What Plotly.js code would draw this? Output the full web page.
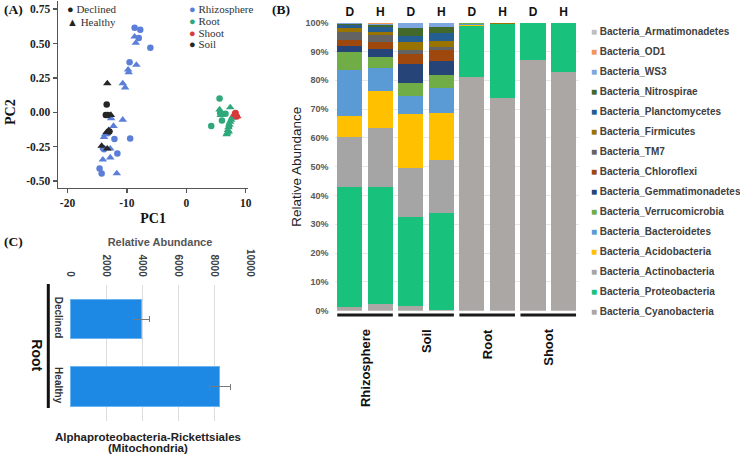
<!DOCTYPE html>
<html>
<head>
<meta charset="utf-8">
<script src="https://cdn.plot.ly/plotly-3.0.1.min.js"></script>
<style>
html, body { margin: 0; padding: 0; background: #fff; }
#chart { width: 740px; height: 456px; }
</style>
</head>
<body>
<div id="chart"></div>
<script>
// ---------- (A) PCA scores ----------
const rhizoDeclinedX = [-8.7, -7.75, -8.0, -6.05, -9.55, -9.45, -12.1, -11.6, -13.85, -14.05, -14.6, -14.25, -13.2];
const rhizoDeclinedY = [0.615, 0.60, 0.54, 0.47, 0.365, -0.19, -0.195, -0.30, -0.27, -0.26, -0.41, -0.445, -0.15];
const rhizoHealthyX = [-8.7, -8.5, -8.4, -9.8, -9.7, -10.7, -10.3, -12.65, -10.7, -12.25, -13.65, -13.85, -12.8, -14.05, -12.8, -11.7];
const rhizoHealthyY = [0.55, 0.505, 0.345, 0.31, 0.29, 0.21, 0.18, -0.045, -0.055, -0.10, -0.16, -0.18, -0.265, -0.345, -0.33, -0.445];
const soilDeclinedX = [-13.4, -13.55, -13.2, -12.95];
const soilDeclinedY = [0.057, -0.02, -0.02, -0.14];
const soilHealthyX = [-13.3, -12.7, -13.4, -13.05, -14.25, -13.3];
const soilHealthyY = [0.21, -0.02, -0.145, -0.13, -0.245, -0.265];
const rootDeclinedX = [5.6, 4.2, 6.0, 6.6, 5.7, 7.2];
const rootDeclinedY = [0.10, -0.10, -0.06, -0.01, -0.005, -0.10];
const rootHealthyX = [5.6, 5.8, 7.4, 6.8, 6.9, 7.0, 7.15, 7.1, 7.25, 7.4, 7.55, 7.7, 7.85];
const rootHealthyY = [0.02, -0.02, 0.035, -0.16, -0.15, -0.13, -0.14, -0.11, -0.09, -0.07, -0.055, -0.04, -0.03];
const shootDeclinedX = [8.2, 8.5, 8.3];
const shootDeclinedY = [-0.01, -0.03, -0.005];
const shootHealthyX = [8.1, 8.4, 8.6];
const shootHealthyY = [-0.015, -0.02, -0.03];

const compartments = ['Rhizosphere', 'Root', 'Shoot', 'Soil'];
const compartmentColors = ['#5b7fd8', '#2fa87b', '#d8393b', '#262626'];
const healthStates = ['Declined', 'Healthy'];
const healthSymbols = ['circle', 'triangle-up'];
const healthGlyphs = ['●', '▲'];

// ---------- (B) phylum relative abundance (%) ----------
const samples = ['Rhizosphere D', 'Rhizosphere H', 'Soil D', 'Soil H', 'Root D', 'Root H', 'Shoot D', 'Shoot H'];
const sampleHealth = ['D', 'H', 'D', 'H', 'D', 'H', 'D', 'H'];
const sampleGroups = ['Rhizosphere', 'Soil', 'Root', 'Shoot'];

const cyanobacteria    = [1.4, 2.3, 1.6, 0.2, 81.0, 73.7, 87.0, 83.0];
const proteobacteria   = [41.4, 40.5, 31.0, 33.8, 17.8, 25.8, 13.0, 16.8];
const actinobacteria   = [17.5, 20.7, 17.1, 18.3, 0.2, 0.1, 0, 0];
const acidobacteria    = [7.3, 12.9, 18.5, 16.2, 0.1, 0, 0, 0];
const bacteroidetes    = [16.0, 7.7, 6.3, 8.7, 0.6, 0.1, 0, 0];
const verrucomicrobia  = [6.1, 4.1, 4.4, 4.6, 0.1, 0, 0, 0];
const gemmatimonadetes = [2.3, 2.7, 6.7, 4.9, 0, 0, 0, 0];
const chloroflexi      = [2.0, 2.5, 3.5, 3.8, 0, 0, 0, 0];
const tm7              = [2.9, 2.3, 1.4, 1.2, 0, 0, 0, 0];
const firmicutes       = [1.1, 1.2, 2.9, 2.05, 0, 0.2, 0, 0.2];
const planctomycetes   = [1.2, 1.7, 2.1, 2.55, 0, 0, 0, 0];
const nitrospirae      = [0.3, 0.5, 2.5, 2.3, 0, 0, 0, 0];
const ws3              = [0.3, 0.5, 1.8, 1.2, 0.1, 0, 0, 0];
const od1              = [0.1, 0.2, 0.1, 0.1, 0.1, 0.1, 0, 0];
const armatimonadetes  = [0.1, 0.2, 0.1, 0.1, 0, 0, 0, 0];

// bottom of the stack first
const taxa = [
    ['Bacteria_Cyanobacteria', cyanobacteria, '#aba7a5'],
    ['Bacteria_Proteobacteria', proteobacteria, '#19c27c'],
    ['Bacteria_Actinobacteria', actinobacteria, '#a5a5a5'],
    ['Bacteria_Acidobacteria', acidobacteria, '#ffc000'],
    ['Bacteria_Bacteroidetes', bacteroidetes, '#5b9bd5'],
    ['Bacteria_Verrucomicrobia', verrucomicrobia, '#70ad47'],
    ['Bacteria_Gemmatimonadetes', gemmatimonadetes, '#264478'],
    ['Bacteria_Chloroflexi', chloroflexi, '#9e480e'],
    ['Bacteria_TM7', tm7, '#636363'],
    ['Bacteria_Firmicutes', firmicutes, '#997300'],
    ['Bacteria_Planctomycetes', planctomycetes, '#255e91'],
    ['Bacteria_Nitrospirae', nitrospirae, '#43682b'],
    ['Bacteria_WS3', ws3, '#7ea6e0'],
    ['Bacteria_OD1', od1, '#f1975a'],
    ['Bacteria_Armatimonadetes', armatimonadetes, '#bfbfbf'],
];

// ---------- (C) mitochondria in root ----------
const cHealth = ['Declined', 'Healthy'];
const cAbundance = [3980, 8330];
const cError = [460, 560];
const cTicks = [0, 2000, 4000, 6000, 8000, 10000];

// pixel -> paper helpers (figure is 740 x 456, no margins)
const X = px => px / 740;
const Y = py => 1 - py / 456;

const serif = 'Liberation Serif, Times New Roman, serif';
const sans = 'Liberation Sans, Arial, sans-serif';

const traces = [];

// PCA points
const pcaSets = [
    [rhizoDeclinedX, rhizoDeclinedY, 0, 0], [rhizoHealthyX, rhizoHealthyY, 0, 1],
    [rootDeclinedX, rootDeclinedY, 1, 0], [rootHealthyX, rootHealthyY, 1, 1],
    [shootDeclinedX, shootDeclinedY, 2, 0], [shootHealthyX, shootHealthyY, 2, 1],
    [soilDeclinedX, soilDeclinedY, 3, 0], [soilHealthyX, soilHealthyY, 3, 1],
];
pcaSets.forEach(([xs, ys, c, h]) => {
    traces.push({
        type: 'scatter', mode: 'markers',
        x: xs, y: ys, xaxis: 'x', yaxis: 'y',
        name: compartments[c] + ' ' + healthStates[h],
        showlegend: false,
        marker: {
            color: compartmentColors[c],
            symbol: healthSymbols[h],
            size: h === 0 ? 6.5 : 7.5,
            line: { width: 0 },
        },
    });
});

// stacked bars
taxa.forEach(([name, vals, color]) => {
    traces.push({
        type: 'bar', x: samples, y: vals, xaxis: 'x2', yaxis: 'y2',
        name: name, showlegend: false,
        marker: { color: color, line: { width: 0 } },
    });
});

// horizontal bar with error bars
traces.push({
    type: 'bar', orientation: 'h',
    x: cAbundance, y: cHealth, xaxis: 'x3', yaxis: 'y3',
    width: 0.59, showlegend: false,
    marker: { color: '#1e88e5', line: { color: '#6ab4f2', width: 1 } },
    error_x: { type: 'data', array: cError, color: '#7a7a7a', thickness: 1, width: 3 },
});

const annotations = [];
const shapes = [];

// panel letters
[['(A)', 2, 9.3], ['(B)', 270, 10], ['(C)', 2, 241.7]].forEach(([t, px, py]) => {
    annotations.push({
        text: t, xref: 'paper', yref: 'paper', x: X(px), y: Y(py),
        xanchor: 'left', yanchor: 'middle', showarrow: false,
        font: { family: serif, size: 13.5, color: '#111', weight: 'bold' },
    });
});

// panel A keys
healthStates.forEach((h, i) => {
    annotations.push({
        text: '<span style="color:#222">' + healthGlyphs[i] + '</span> ' + h,
        xref: 'paper', yref: 'paper', x: X(65), y: Y(9.3 + 12.2 * i),
        xanchor: 'left', yanchor: 'middle', showarrow: false,
        font: { family: serif, size: 11, color: '#333' },
    });
});
compartments.forEach((c, i) => {
    annotations.push({
        text: '<span style="color:' + compartmentColors[i] + '">●</span> ' + c,
        xref: 'paper', yref: 'paper', x: X(187), y: Y(9.3 + 11.7 * i),
        xanchor: 'left', yanchor: 'middle', showarrow: false,
        font: { family: serif, size: 11, color: '#333' },
    });
});
annotations.push({
    text: 'PC2', textangle: -90, xref: 'paper', yref: 'paper', x: X(10), y: Y(112),
    xanchor: 'center', yanchor: 'middle', showarrow: false,
    font: { family: serif, size: 14, color: '#111', weight: 'bold' },
});

// panel B group labels and underlines
sampleGroups.forEach((g, i) => {
    annotations.push({
        text: g, textangle: -90, xref: 'x2', yref: 'paper', x: 2 * i + 0.5, y: Y(327),
        xanchor: 'center', yanchor: 'top', showarrow: false,
        font: { family: sans, size: 13, color: '#111', weight: 'bold' },
    });
    shapes.push({
        type: 'line', xref: 'x2', yref: 'paper',
        x0: 2 * i - 0.41, x1: 2 * i + 1.41, y0: Y(315), y1: Y(315),
        line: { color: '#1a1a1a', width: 3 },
    });
});

// panel B key (top to bottom = top of stack first)
taxa.slice().reverse().forEach(([name, , color], i) => {
    annotations.push({
        text: '<span style="color:' + color + '">■</span> ' + name,
        xref: 'paper', yref: 'paper', x: X(589), y: Y(31.7 + 20 * i),
        xanchor: 'left', yanchor: 'middle', showarrow: false,
        font: { family: sans, size: 10, color: '#404040', weight: 'bold' },
    });
});

// panel C extras
annotations.push({
    text: 'Root', textangle: 90, xref: 'paper', yref: 'paper', x: X(36.7), y: Y(355),
    xanchor: 'center', yanchor: 'middle', showarrow: false,
    font: { family: sans, size: 14, color: '#111', weight: 'bold' },
});
shapes.push({
    type: 'line', xref: 'paper', yref: 'paper',
    x0: X(48.3), x1: X(48.3), y0: Y(284), y1: Y(408),
    line: { color: '#111', width: 3 },
});
[['Alphaproteobacteria-Rickettsiales', 436.7], ['(Mitochondria)', 447.5]].forEach(([t, py]) => {
    annotations.push({
        text: t, xref: 'paper', yref: 'paper', x: X(148), y: Y(py),
        xanchor: 'center', yanchor: 'middle', showarrow: false,
        font: { family: sans, size: 11.5, color: '#222', weight: 'bold' },
    });
});

const serifTick = { family: serif, size: 11.5, color: '#222', weight: 'bold' };

const layout = {
    width: 740, height: 456,
    margin: { l: 0, r: 0, t: 0, b: 0 },
    paper_bgcolor: '#ffffff', plot_bgcolor: 'rgba(0,0,0,0)',
    showlegend: false,
    barmode: 'stack', bargap: 0.18,
    xaxis: {
        domain: [X(58), X(248.3)], anchor: 'y',
        range: [-21.6, 10.44],
        tickvals: [-20, -10, 0, 10], ticktext: ['-20', '-10', '0', '10'],
        ticks: 'outside', ticklen: 4, tickwidth: 1.5, tickcolor: '#555',
        showline: true, linecolor: '#555', linewidth: 1.5,
        showgrid: false, zeroline: false,
        tickfont: serifTick,
        title: { text: 'PC1', font: { family: serif, size: 14, color: '#111', weight: 'bold' }, standoff: 5 },
    },
    yaxis: {
        domain: [Y(187.7), Y(1)], anchor: 'x',
        range: [-0.549, 0.81],
        tickvals: [0.75, 0.5, 0.25, 0, -0.25, -0.5],
        ticktext: ['0.75', '0.50', '0.25', '0.00', '-0.25', '-0.50'],
        ticks: 'outside', ticklen: 4, tickwidth: 1.5, tickcolor: '#555',
        showline: true, linecolor: '#555', linewidth: 1.5,
        showgrid: false, zeroline: false,
        tickfont: serifTick,
    },
    xaxis2: {
        domain: [X(334.5), X(578.8)], anchor: 'y2', side: 'top',
        type: 'category', range: [-0.5, 7.5],
        tickmode: 'array', tickvals: samples, ticktext: sampleHealth,
        ticks: '', showline: false, showgrid: false, zeroline: false,
        ticklabelstandoff: 3,
        tickfont: { family: sans, size: 12, color: '#111', weight: 'bold' },
    },
    yaxis2: {
        domain: [Y(310.7), Y(22.7)], anchor: 'x2',
        range: [0, 100], dtick: 10, ticksuffix: '%',
        ticks: '', showline: false, zeroline: false,
        gridcolor: '#e6e6e6', gridwidth: 1,
        ticklabelstandoff: 5,
        tickfont: { family: sans, size: 9, color: '#595959', weight: 'bold' },
        title: { text: 'Relative Abundance', font: { family: sans, size: 13.5, color: '#222' }, standoff: 0 },
    },
    xaxis3: {
        domain: [X(70), X(250)], anchor: 'y3', side: 'top',
        range: [0, 10000], tickvals: cTicks, ticktext: cTicks.map(String),
        tickangle: 90, ticks: '', showline: false, zeroline: false,
        gridcolor: '#dcdcdc', gridwidth: 1,
        ticklabelstandoff: 6,
        tickfont: { family: sans, size: 10, color: '#404040', weight: 'bold' },
        title: { text: 'Relative Abundance', font: { family: sans, size: 11, color: '#555', weight: 'bold' }, standoff: 0 },
    },
    yaxis3: {
        domain: [Y(420.5), Y(285.2)], anchor: 'x3',
        type: 'category', autorange: 'reversed',
        tickangle: 90, ticks: '', showline: false, showgrid: false, zeroline: false,
        ticklabelstandoff: 4,
        tickfont: { family: sans, size: 10, color: '#333', weight: 'bold' },
    },
    annotations: annotations,
    shapes: shapes,
};

Plotly.newPlot('chart', traces, layout, { displayModeBar: false, staticPlot: true });
</script>
</body>
</html>
